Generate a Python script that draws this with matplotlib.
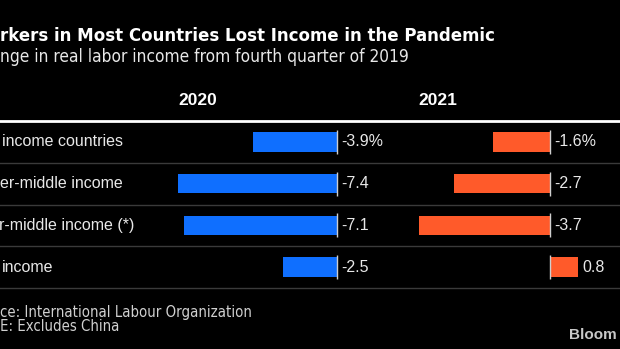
import matplotlib
matplotlib.use("Agg")
import matplotlib.pyplot as plt

# Data
row_labels = ["income countries", "er-middle income", "r-middle income (*)", "income"]
years = ["2020", "2021"]
values_2020 = [-3.9, -7.4, -7.1, -2.5]
values_2021 = [-1.6, -2.7, -3.7, 0.8]

BLUE = "#0f6fff"
ORANGE = "#ff5a2a"
BG = "black"
TXT = "#e8e8e8"

fig = plt.figure(figsize=(6.2, 3.49), dpi=100)
fig.patch.set_facecolor(BG)

# table area: from the white rule (y=121px) down to the last separator (y=288px)
W, H = 620, 349
top_px, bot_px = 121, 288
bottom = 1 - bot_px / H
height = (bot_px - top_px) / H

# full-width axis for separators and row labels
ax_lab = fig.add_axes([0, bottom, 1, height])
ax_lab.set_xlim(0, W)
ax_lab.set_ylim(len(row_labels) - 0.5, -0.5)
ax_lab.axis("off")
ax_lab.axhline(-0.5, color="white", lw=2, clip_on=False)
for i in range(len(row_labels)):
    ax_lab.axhline(i + 0.5, color="#3a3a3a", lw=1, clip_on=False)
label_x = [2, 0, -1, 2]
for i, lab in enumerate(row_labels):
    ax_lab.text(label_x[i], i, lab, color=TXT, fontsize=11.5, family="Liberation Sans",
                va="center", ha="left")

# one axis per year, each with its own scale
# (left px, right px, zero px, px per unit)
panels = [(150, 400, 337, 21.5), (400, 620, 550, 35.5)]
series = [values_2020, values_2021]
colors = [BLUE, ORANGE]

for k, (vals, col, (lp, rp, zp, ppu)) in enumerate(zip(series, colors, panels)):
    ax = fig.add_axes([lp / W, bottom, (rp - lp) / W, height])
    ax.set_xlim(-(zp - lp) / ppu, (rp - zp) / ppu)
    ax.set_ylim(len(row_labels) - 0.5, -0.5)
    ax.axis("off")
    ypos = list(range(len(vals)))
    ax.barh(ypos, vals, height=0.47, color=col)
    ax.vlines([0] * len(vals), [y - 0.29 for y in ypos], [y + 0.29 for y in ypos],
              color="#cfcfcf", lw=1)
    for i, v in enumerate(vals):
        lab = f"{v:.1f}" + ("%" if i == 0 else "")
        ax.annotate(lab, (max(v, 0), i), xytext=(3.2, 0), textcoords="offset points",
                    color=TXT, fontsize=11.5, family="Liberation Sans",
                    va="center", ha="left")
    ax.set_facecolor("none")

# column headers
fig.text(198 / W, 1 - 105 / H, years[0], color="white", fontsize=12.5, fontweight="bold",
         family="Liberation Sans", ha="center", va="baseline")
fig.text(438 / W, 1 - 105 / H, years[1], color="white", fontsize=12.5, fontweight="bold",
         family="Liberation Sans", ha="center", va="baseline")

# title / subtitle (left edge cropped in the reference)
fig.text(0, 1 - 41 / H, "rkers in Most Countries Lost Income in the Pandemic",
         color="white", fontsize=13.3, fontweight="bold", family="DejaVu Sans",
         fontstretch="condensed", ha="left", va="baseline")
fig.text(0, 1 - 62 / H, "nge in real labor income from fourth quarter of 2019",
         color=TXT, fontsize=12.4, family="DejaVu Sans", fontstretch="condensed",
         ha="left", va="baseline")

# footer
fig.text(0, 1 - 317 / H, "ce: International Labour Organization", color="#d0d0d0",
         fontsize=10.7, family="DejaVu Sans", fontstretch="condensed", ha="left", va="baseline")
fig.text(0, 1 - 331 / H, "E: Excludes China", color="#d0d0d0",
         fontsize=10.7, family="DejaVu Sans", fontstretch="condensed", ha="left", va="baseline")
fig.text(617 / W, 1 - 339 / H, "Bloom", color="#c8c8c8", fontsize=11, fontweight="bold",
         family="Liberation Sans", ha="right", va="baseline")

fig.savefig("out.png", dpi=100, facecolor=BG)
